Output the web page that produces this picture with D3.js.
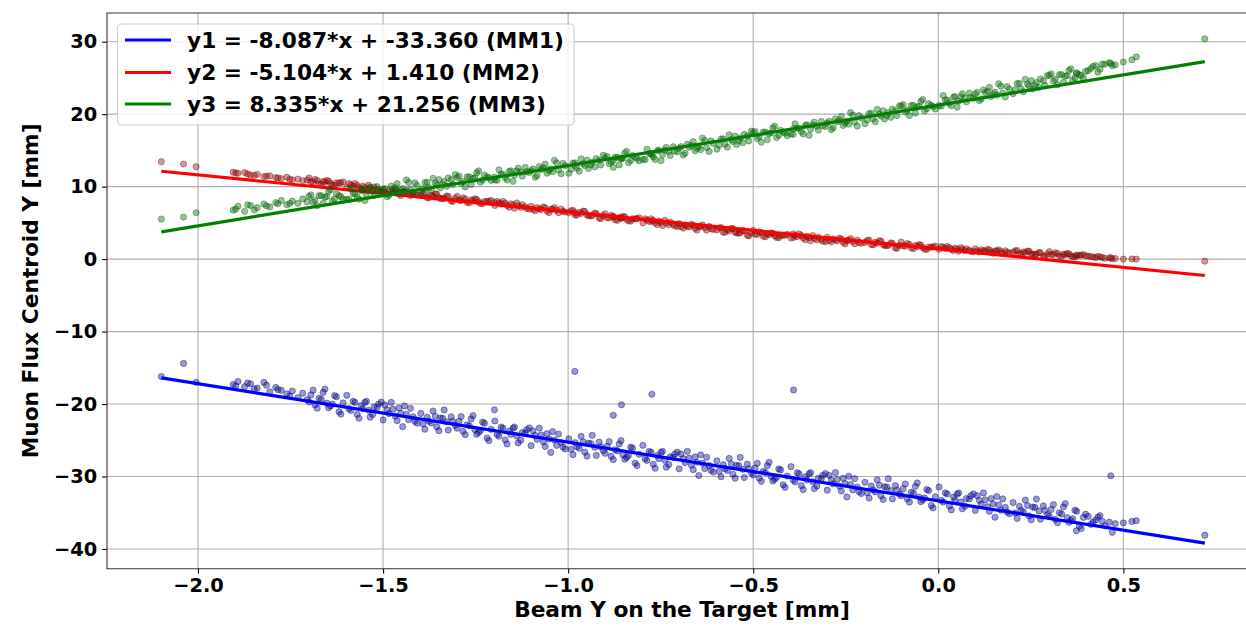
<!DOCTYPE html>
<html>
<head>
<meta charset="utf-8">
<script src="https://cdn.jsdelivr.net/npm/d3@7"></script>
<style>
  html, body { margin: 0; padding: 0; background: #fff; overflow: hidden; }
  svg { display: block; font-family: "DejaVu Sans", sans-serif; font-weight: bold; }
</style>
</head>
<body>
<svg id="chart" width="1246" height="627"></svg>
<script>
// ---------------- data ----------------
// beam position on the target (shared by the three monitors)
const beamY = [
  -2.099,-2.039,-2.005,-1.905,-1.892,-1.874,-1.858,-1.840,-1.822,-1.806,-1.790,-1.775,-1.760,-1.745,-1.730,-1.717,-1.705,
  -1.695,-1.684,-1.673,-1.662,-1.652,-1.642,-1.631,-1.619,-1.608,
  -1.592,-1.581,-1.570,-1.559,-1.549,-1.539,-1.528,-1.516,-1.505,
  -1.495,-1.484,-1.473,-1.462,-1.452,-1.442,-1.431,-1.419,-1.408,
  -1.392,-1.381,-1.370,-1.359,-1.349,-1.339,-1.328,-1.316,-1.305,
  -1.295,-1.284,-1.273,-1.262,-1.252,-1.242,-1.231,-1.219,-1.208,
  -1.192,-1.181,-1.170,-1.159,-1.149,-1.139,-1.128,-1.116,-1.105,
  -1.095,-1.084,-1.073,-1.062,-1.052,-1.042,-1.031,-1.019,-1.008,
  -0.992,-0.981,-0.970,-0.959,-0.949,-0.939,-0.928,-0.916,-0.905,
  -0.895,-0.884,-0.873,-0.862,-0.852,-0.842,-0.831,-0.819,-0.808,
  -0.792,-0.781,-0.770,-0.759,-0.749,-0.739,-0.728,-0.716,-0.705,
  -0.695,-0.684,-0.673,-0.662,-0.652,-0.642,-0.631,-0.619,-0.608,
  -0.592,-0.581,-0.570,-0.559,-0.549,-0.539,-0.528,-0.516,-0.505,
  -0.495,-0.484,-0.473,-0.462,-0.452,-0.442,-0.431,-0.419,-0.408,
  -0.392,-0.381,-0.370,-0.359,-0.349,-0.339,-0.328,-0.316,-0.305,
  -0.295,-0.284,-0.273,-0.262,-0.252,-0.242,-0.231,-0.219,-0.208,
  -0.192,-0.181,-0.170,-0.159,-0.149,-0.139,-0.128,-0.116,-0.105,
  -0.095,-0.084,-0.073,-0.062,-0.052,-0.042,-0.031,-0.019,-0.008,
  0.008,0.019,0.030,0.041,0.051,0.061,0.072,0.084,0.095,
  0.105,0.116,0.127,0.138,0.148,0.158,0.169,0.181,0.192,
  0.208,0.219,0.230,0.241,0.251,0.261,0.272,0.284,0.295,
  0.305,0.316,0.327,0.338,0.348,0.358,0.369,0.381,0.392,
  0.405,0.418,0.431,0.443,
  0.462,0.470,0.478,0.500,0.523,0.535,0.720,
  -1.199,-0.982,-0.878,-0.856,-0.774,-0.391,0.373,0.466,
  -1.898,-1.866,-1.848,-1.815,-1.784,-1.752,
  -1.700,-1.689,-1.678,-1.667,-1.657,-1.647,-1.637,-1.626,-1.614,
  -1.598,-1.587,-1.576,-1.565,-1.555,-1.545,-1.535,-1.524,-1.512,
  -1.500,-1.489,-1.478,-1.467,-1.457,-1.447,-1.437,-1.426,-1.414,
  -1.398,-1.387,-1.376,-1.365,-1.355,-1.345,-1.335,-1.324,-1.312,
  -1.300,-1.289,-1.278,-1.267,-1.257,-1.247,-1.237,-1.226,-1.214,
  -1.198,-1.187,-1.176,-1.165,-1.155,-1.145,-1.135,-1.124,-1.112,
  -1.100,-1.089,-1.078,-1.067,-1.057,-1.047,-1.037,-1.026,-1.014,
  -0.998,-0.987,-0.976,-0.965,-0.955,-0.945,-0.935,-0.924,-0.912,
  -0.900,-0.889,-0.878,-0.867,-0.857,-0.847,-0.837,-0.826,-0.814,
  -0.798,-0.787,-0.776,-0.765,-0.755,-0.745,-0.735,-0.724,-0.712,
  -0.700,-0.689,-0.678,-0.667,-0.657,-0.647,-0.637,-0.626,-0.614,
  -0.598,-0.587,-0.576,-0.565,-0.555,-0.545,-0.535,-0.524,-0.512,
  -0.500,-0.489,-0.478,-0.467,-0.457,-0.447,-0.437,-0.426,-0.414,
  -0.398,-0.387,-0.376,-0.365,-0.355,-0.345,-0.335,-0.324,-0.312,
  -0.300,-0.289,-0.278,-0.267,-0.257,-0.247,-0.237,-0.226,-0.214,
  -0.198,-0.187,-0.176,-0.165,-0.155,-0.145,-0.135,-0.124,-0.112,
  -0.100,-0.089,-0.078,-0.067,-0.057,-0.047,-0.037,-0.026,-0.014,
  0.002,0.013,0.024,0.035,0.045,0.055,0.065,0.076,0.088,
  0.100,0.111,0.122,0.133,0.143,0.153,0.163,0.174,0.186,
  0.202,0.213,0.224,0.235,0.245,0.255,0.265,0.276,0.288,
  0.300,0.311,0.322,0.333,0.343,0.353,0.363,0.374,0.386,
  0.398,0.412,0.425,0.437,0.450
];
// MM1 centroid
const mm1 = [
  -16.2,-14.4,-17.0,-17.3,-16.9,-17.6,-17.2,-17.8,-17.0,-18.3,-17.7,-18.1,-18.6,-18.2,-19.1,-18.5,-19.4,
  -18.74,-20.12,-19.21,-18.40,-19.88,-20.26,-18.85,-21.05,-19.84,
  -20.64,-19.62,-21.41,-20.20,-19.78,-20.86,-21.45,-20.45,-19.74,
  -20.14,-21.32,-20.71,-22.30,-21.28,-20.26,-22.15,-21.75,-22.64,
  -22.74,-21.82,-22.61,-21.70,-23.68,-21.96,-22.45,-21.75,-22.94,
  -22.39,-23.77,-22.86,-22.05,-23.53,-23.91,-22.50,-24.70,-23.49,
  -24.19,-23.17,-24.96,-23.75,-23.33,-24.41,-25.00,-24.00,-23.29,
  -23.69,-24.87,-24.26,-25.85,-24.83,-23.81,-25.70,-25.30,-26.19,
  -26.24,-25.32,-26.11,-25.20,-27.18,-25.46,-25.95,-25.25,-26.44,
  -25.84,-27.22,-26.31,-25.50,-26.98,-27.36,-25.95,-28.15,-26.94,
  -27.54,-26.52,-28.31,-27.10,-26.68,-27.76,-28.35,-27.35,-26.64,
  -26.89,-28.07,-27.46,-29.05,-28.03,-27.01,-28.90,-28.50,-29.39,
  -29.29,-28.37,-29.16,-28.25,-30.23,-28.51,-29.00,-28.30,-29.49,
  -28.84,-30.22,-29.31,-28.50,-29.98,-30.36,-28.95,-31.15,-29.94,
  -30.49,-29.47,-31.26,-30.05,-29.63,-30.71,-31.30,-30.30,-29.59,
  -29.84,-31.02,-30.41,-32.00,-30.98,-29.96,-31.85,-31.45,-32.34,
  -32.24,-31.32,-32.11,-31.20,-33.18,-31.46,-31.95,-31.25,-32.44,
  -31.69,-33.07,-32.16,-31.35,-32.83,-33.21,-31.80,-34.00,-32.79,
  -33.29,-32.27,-34.06,-32.85,-32.43,-33.51,-34.10,-33.10,-32.39,
  -32.64,-33.82,-33.21,-34.80,-33.78,-32.76,-34.65,-34.25,-35.14,
  -35.04,-34.12,-34.91,-34.00,-35.98,-34.26,-34.75,-34.05,-35.24,
  -34.54,-35.92,-35.01,-34.20,-35.68,-36.06,-34.65,-36.85,-35.64,
  -35.5,-36.3,-35.6,-36.2,
  -36.3,-37.7,-36.5,-36.4,-36.2,-36.1,-38.1,
  -20.8,-15.5,-21.55,-20.1,-18.65,-18.06,-37.5,-29.9,
  -17.5,-17.1,-17.9,-17.4,-18.0,-18.9,
  -19.69,-18.08,-20.57,-19.36,-17.94,-20.52,-20.01,-18.99,-21.39,
  -18.79,-20.88,-19.77,-21.96,-20.64,-19.62,-21.81,-20.39,-19.99,
  -22.19,-20.78,-19.77,-21.66,-20.54,-23.12,-21.41,-20.59,-22.39,
  -21.29,-23.48,-22.37,-20.96,-23.14,-21.92,-20.81,-23.59,-22.39,
  -23.34,-21.73,-24.22,-23.01,-21.59,-24.17,-23.66,-22.64,-25.04,
  -22.34,-24.43,-23.32,-25.51,-24.19,-23.17,-25.36,-23.94,-23.54,
  -25.74,-24.33,-23.32,-25.21,-24.09,-26.67,-24.96,-24.14,-25.94,
  -24.79,-26.98,-25.87,-24.46,-26.64,-25.42,-24.31,-27.09,-25.89,
  -26.79,-25.18,-27.67,-26.46,-25.04,-27.62,-27.11,-26.09,-28.49,
  -25.69,-27.78,-26.67,-28.86,-27.54,-26.52,-28.71,-27.29,-26.89,
  -28.94,-27.53,-26.52,-28.41,-27.29,-29.87,-28.16,-27.34,-29.14,
  -27.84,-30.03,-28.92,-27.51,-29.69,-28.47,-27.36,-30.14,-28.94,
  -29.79,-28.18,-30.67,-29.46,-28.04,-30.62,-30.11,-29.09,-31.49,
  -28.64,-30.73,-29.62,-31.81,-30.49,-29.47,-31.66,-30.24,-29.84,
  -31.89,-30.48,-29.47,-31.36,-30.24,-32.82,-31.11,-30.29,-32.09,
  -30.79,-32.98,-31.87,-30.46,-32.64,-31.42,-30.31,-33.09,-31.89,
  -32.64,-31.03,-33.52,-32.31,-30.89,-33.47,-32.96,-31.94,-34.34,
  -31.44,-33.53,-32.42,-34.61,-33.29,-32.27,-34.46,-33.04,-32.64,
  -34.69,-33.28,-32.27,-34.16,-33.04,-35.62,-33.91,-33.09,-34.89,
  -33.59,-35.78,-34.67,-33.26,-35.44,-34.22,-33.11,-35.89,-34.69,
  -35.49,-33.88,-36.37,-35.16,-33.74,-36.32,-35.81,-34.79,-37.19,
  -35.2,-36.6,-36.0,-35.4,-36.8
];
// MM2 centroid
const mm2 = [
  13.44,13.12,12.75,12.0,11.85,11.95,11.6,11.7,11.4,11.5,11.25,11.1,11.3,10.95,11.05,10.8,10.9,
  10.67,11.00,10.39,10.72,10.86,10.45,10.19,10.51,10.65,
  10.42,10.05,10.19,9.62,9.91,10.20,9.59,9.66,9.35,
  9.22,9.45,9.19,9.42,8.76,9.25,9.09,9.26,8.85,
  9.05,8.48,8.82,9.00,8.49,8.33,8.72,8.04,8.38,
  8.12,8.45,7.84,8.17,8.31,7.90,7.64,7.96,8.10,
  7.97,7.60,7.74,7.17,7.46,7.75,7.14,7.21,6.90,
  6.87,7.10,6.84,7.07,6.41,6.90,6.74,6.91,6.50,
  6.67,6.10,6.44,6.62,6.11,5.95,6.34,5.66,6.00,
  5.72,6.05,5.44,5.77,5.91,5.50,5.24,5.56,5.70,
  5.57,5.20,5.34,4.77,5.06,5.35,4.74,4.81,4.50,
  4.47,4.70,4.44,4.67,4.01,4.50,4.34,4.51,4.10,
  4.29,3.72,4.06,4.24,3.73,3.57,3.96,3.28,3.62,
  3.44,3.77,3.16,3.49,3.63,3.22,2.96,3.28,3.42,
  3.47,3.10,3.24,2.67,2.96,3.25,2.64,2.71,2.40,
  2.57,2.80,2.54,2.77,2.11,2.60,2.44,2.61,2.20,
  2.57,2.00,2.34,2.52,2.01,1.85,2.24,1.56,1.90,
  1.82,2.15,1.54,1.87,2.01,1.60,1.34,1.66,1.80,
  1.75,1.49,1.59,1.19,1.39,1.60,1.17,1.22,1.00,
  1.12,1.28,1.10,1.26,0.80,1.14,1.03,1.15,0.86,
  1.15,0.75,0.99,1.11,0.76,0.64,0.92,0.44,0.68,
  0.64,0.88,0.45,0.68,0.78,0.49,0.31,0.53,0.63,
  0.42,0.30,0.38,0.22,
  0.15,0.05,0.10,0.00,0.02,0.00,-0.28,
  7.8,6.4,5.8,5.65,5.2,3.0,0.5,0.2,
  11.9,11.75,11.55,11.45,11.2,11.0,
  11.20,10.63,10.87,10.30,10.59,10.78,10.22,10.51,10.53,
  9.85,10.23,10.42,9.85,10.09,9.48,9.82,9.96,9.43,
  9.65,9.03,9.27,9.55,8.99,9.23,9.47,8.76,8.93,
  8.78,9.11,8.45,8.68,8.97,8.36,8.40,8.64,7.96,
  8.65,8.08,8.32,7.75,8.04,8.23,7.67,7.96,7.98,
  7.40,7.78,7.97,7.40,7.64,7.03,7.37,7.51,6.98,
  7.30,6.68,6.92,7.20,6.64,6.88,7.12,6.41,6.58,
  6.40,6.73,6.07,6.30,6.59,5.98,6.02,6.26,5.58,
  6.25,5.68,5.92,5.35,5.64,5.83,5.27,5.56,5.58,
  5.00,5.38,5.57,5.00,5.24,4.63,4.97,5.11,4.58,
  4.90,4.28,4.52,4.80,4.24,4.48,4.72,4.01,4.18,
  4.02,4.35,3.69,3.92,4.21,3.60,3.64,3.88,3.20,
  3.97,3.40,3.64,3.07,3.36,3.55,2.99,3.28,3.30,
  2.90,3.28,3.47,2.90,3.14,2.53,2.87,3.01,2.48,
  3.00,2.38,2.62,2.90,2.34,2.58,2.82,2.11,2.28,
  2.30,2.63,1.97,2.20,2.49,1.88,1.92,2.16,1.48,
  2.35,1.78,2.02,1.45,1.74,1.93,1.37,1.66,1.68,
  1.35,1.62,1.75,1.35,1.52,1.09,1.33,1.43,1.06,
  1.42,0.99,1.15,1.35,0.96,1.13,1.29,0.80,0.92,
  0.96,1.19,0.73,0.89,1.09,0.67,0.69,0.86,0.39,
  1.02,0.62,0.78,0.38,0.59,0.72,0.33,0.53,0.55,
  0.45,0.35,0.20,0.30,0.12
];
// MM3 centroid
const mm3 = [
  5.53,5.8,6.4,6.75,7.3,6.6,7.4,7.1,7.6,7.2,7.8,8.1,7.5,8.0,7.7,8.3,7.9,
  8.87,8.11,8.75,7.70,8.63,9.57,8.31,8.76,8.26,
  8.22,9.06,8.60,9.45,8.08,9.52,9.36,10.01,9.31,
  9.74,8.83,9.67,10.42,9.50,9.34,10.58,9.08,10.18,
  9.72,10.61,9.45,10.50,10.98,10.32,10.06,10.96,11.66,
  11.47,10.71,11.35,10.30,11.23,12.17,10.91,11.36,10.86,
  10.87,11.71,11.25,12.10,10.73,12.17,12.01,12.66,11.96,
  12.44,11.53,12.37,13.12,12.20,12.04,13.28,11.78,12.88,
  12.40,13.29,12.13,13.18,13.66,13.00,12.74,13.64,14.34,
  14.17,13.41,14.05,13.00,13.93,14.87,13.61,14.06,13.56,
  13.72,14.56,14.10,14.95,13.58,15.02,14.86,15.51,14.81,
  15.52,14.61,15.45,16.20,15.28,15.12,16.36,14.86,15.96,
  15.72,16.61,15.45,16.50,16.98,16.32,16.06,16.96,17.66,
  17.64,16.88,17.52,16.47,17.40,18.34,17.08,17.53,17.03,
  17.22,18.06,17.60,18.45,17.08,18.52,18.36,19.01,18.31,
  19.02,18.11,18.95,19.70,18.78,18.62,19.86,18.36,19.46,
  19.22,20.11,18.95,20.00,20.48,19.82,19.56,20.46,21.16,
  21.32,20.56,21.20,20.15,21.08,22.02,20.76,21.21,20.71,
  21.12,21.96,21.50,22.35,20.98,22.42,22.26,22.91,22.21,
  23.02,22.11,22.95,23.70,22.78,22.62,23.86,22.36,23.46,
  23.37,24.26,23.10,24.15,24.63,23.97,23.71,24.61,25.31,
  25.57,24.81,25.45,24.40,25.33,26.27,25.01,25.46,24.96,
  26.0,26.6,25.8,26.9,
  27.1,26.7,26.8,27.2,27.5,27.9,30.4,
  11.3,12.9,13.6,13.9,14.4,18.0,25.6,27.0,
  6.9,7.5,6.8,7.35,7.65,7.7,
  8.67,7.87,7.36,8.76,8.54,9.33,8.01,9.00,8.61,
  8.27,9.67,9.06,8.26,9.54,8.93,9.91,8.80,9.41,
  9.49,8.59,10.08,9.88,9.16,9.75,10.93,9.62,10.53,
  9.17,10.57,9.86,11.16,10.24,9.83,10.71,11.20,10.31,
  11.27,10.47,9.96,11.36,11.14,11.93,10.61,11.60,11.21,
  10.92,12.32,11.71,10.91,12.19,11.58,12.56,11.45,12.06,
  12.19,11.29,12.78,12.58,11.86,12.45,13.63,12.32,13.23,
  11.85,13.25,12.54,13.84,12.92,12.51,13.39,13.88,12.99,
  13.97,13.17,12.66,14.06,13.84,14.63,13.31,14.30,13.91,
  13.77,15.17,14.56,13.76,15.04,14.43,15.41,14.30,14.91,
  15.27,14.37,15.86,15.66,14.94,15.53,16.71,15.40,16.31,
  15.17,16.57,15.86,17.16,16.24,15.83,16.71,17.20,16.31,
  17.44,16.64,16.13,17.53,17.31,18.10,16.78,17.77,17.38,
  17.27,18.67,18.06,17.26,18.54,17.93,18.91,17.80,18.41,
  18.77,17.87,19.36,19.16,18.44,19.03,20.21,18.90,19.81,
  18.67,20.07,19.36,20.66,19.74,19.33,20.21,20.70,19.81,
  21.12,20.32,19.81,21.21,20.99,21.78,20.46,21.45,21.06,
  21.17,22.57,21.96,21.16,22.44,21.83,22.81,21.70,22.31,
  22.77,21.87,23.36,23.16,22.44,23.03,24.21,22.90,23.81,
  22.82,24.22,23.51,24.81,23.89,23.48,24.36,24.85,23.96,
  25.37,24.57,24.06,25.46,25.24,26.03,24.71,25.70,25.31,
  25.9,26.3,26.7,26.2,26.9
];
// linear fit results shown in the legend
const fitSlopes = [-8.087, -5.104, 8.335];
const fitIntercepts = [-33.360, 1.410, 21.256];
const legendLabels = [
  "y1 = -8.087*x + -33.360 (MM1)",
  "y2 = -5.104*x + 1.410 (MM2)",
  "y3 = 8.335*x + 21.256 (MM3)"
];
const xTicks = [-2.0, -1.5, -1.0, -0.5, 0.0, 0.5];
const yTicks = [-40, -30, -20, -10, 0, 10, 20, 30];
const xLabel = "Beam Y on the Target [mm]";
const yLabel = "Muon Flux Centroid Y [mm]";

// ---------------- styling ----------------
const lineColors = ["#0000ff", "#ff0000", "#008000"];
const dotColors = ["#00008b", "#8b0000", "#006400"];

const svg = d3.select("#chart");
const plot = { left: 107, top: 13, right: 1257, bottom: 568.7 };

const x = d3.scaleLinear().domain([-2.2458, 0.861]).range([plot.left, plot.right]);
const y = d3.scaleLinear().domain([-42.72, 33.96]).range([plot.bottom, plot.top]);

const minus = s => s.replace("-", "\u2212");

svg.append("defs").append("clipPath").attr("id", "clip")
  .append("rect").attr("x", plot.left).attr("y", plot.top)
  .attr("width", plot.right - plot.left).attr("height", plot.bottom - plot.top);

// grid
const grid = svg.append("g").attr("stroke", "#b0b0b0").attr("stroke-width", 1.1);
grid.selectAll("line.gx").data(xTicks).join("line")
  .attr("x1", d => x(d)).attr("x2", d => x(d))
  .attr("y1", plot.top).attr("y2", plot.bottom);
grid.selectAll("line.gy").data(yTicks).join("line")
  .attr("x1", plot.left).attr("x2", plot.right)
  .attr("y1", d => y(d)).attr("y2", d => y(d));

// data
const series = [mm1, mm2, mm3];
const dataG = svg.append("g").attr("clip-path", "url(#clip)");
const xExt = d3.extent(beamY);
series.forEach((vals, i) => {
  const pts = beamY.map((bx, j) => [bx, vals[j]]);
  dataG.append("g").selectAll("circle").data(pts).join("circle")
    .attr("cx", d => x(d[0])).attr("cy", d => y(d[1])).attr("r", 3.1)
    .attr("fill", dotColors[i]).attr("fill-opacity", 0.4)
    .attr("stroke", dotColors[i]).attr("stroke-opacity", 0.4).attr("stroke-width", 1);
  const linePts = xExt.map(v => [v, fitSlopes[i] * v + fitIntercepts[i]]);
  dataG.append("path")
    .attr("d", d3.line().x(d => x(d[0])).y(d => y(d[1]))(linePts))
    .attr("stroke", lineColors[i]).attr("stroke-width", 3.2).attr("fill", "none");
});

// axes
const xAxis = d3.axisBottom(x).tickValues(xTicks).tickSize(4.9).tickPadding(4.9)
  .tickFormat(d => minus(d3.format(".1f")(d)));
const gx = svg.append("g").attr("transform", `translate(0,${plot.bottom})`).call(xAxis);
const yAxis = d3.axisLeft(y).tickValues(yTicks).tickSize(4.9).tickPadding(4.9)
  .tickFormat(d => minus(d3.format("d")(d)));
const gy = svg.append("g").attr("transform", `translate(${plot.left},0)`).call(yAxis);
[gx, gy].forEach(g => {
  g.select(".domain").remove();
  g.selectAll(".tick line").attr("stroke", "#000").attr("stroke-width", 1.1);
  g.selectAll(".tick text").attr("fill", "#000")
    .style("font-family", "DejaVu Sans").style("font-weight", "bold").style("font-size", "19.4px");
});

// spines (left, top, bottom)
svg.append("path")
  .attr("d", `M${plot.right},${plot.top}H${plot.left}V${plot.bottom}H${plot.right}`)
  .attr("fill", "none").attr("stroke", "#333").attr("stroke-width", 1.1);

// axis labels
svg.append("text").attr("x", (plot.left + plot.right) / 2).attr("y", 617)
  .attr("text-anchor", "middle").style("font-size", "21.7px").attr("fill", "#000").text(xLabel);
svg.append("text")
  .attr("transform", `translate(38,${(plot.top + plot.bottom) / 2}) rotate(-90)`)
  .attr("text-anchor", "middle").style("font-size", "21.7px").attr("fill", "#000").text(yLabel);

// legend
const lg = svg.append("g");
lg.append("rect").attr("x", 117.5).attr("y", 24).attr("width", 456.5).attr("height", 101)
  .attr("rx", 4).attr("fill", "#fff").attr("fill-opacity", 0.8)
  .attr("stroke", "#cccccc").attr("stroke-width", 1.1);
const rowY = [40, 72.5, 104];
legendLabels.forEach((lab, i) => {
  lg.append("line").attr("x1", 125).attr("x2", 171).attr("y1", rowY[i]).attr("y2", rowY[i])
    .attr("stroke", lineColors[i]).attr("stroke-width", 3.2);
  lg.append("text").attr("x", 187).attr("y", rowY[i] + 7.8)
    .style("font-size", "21.7px").attr("fill", "#000").text(lab);
});
</script>
</body>
</html>
